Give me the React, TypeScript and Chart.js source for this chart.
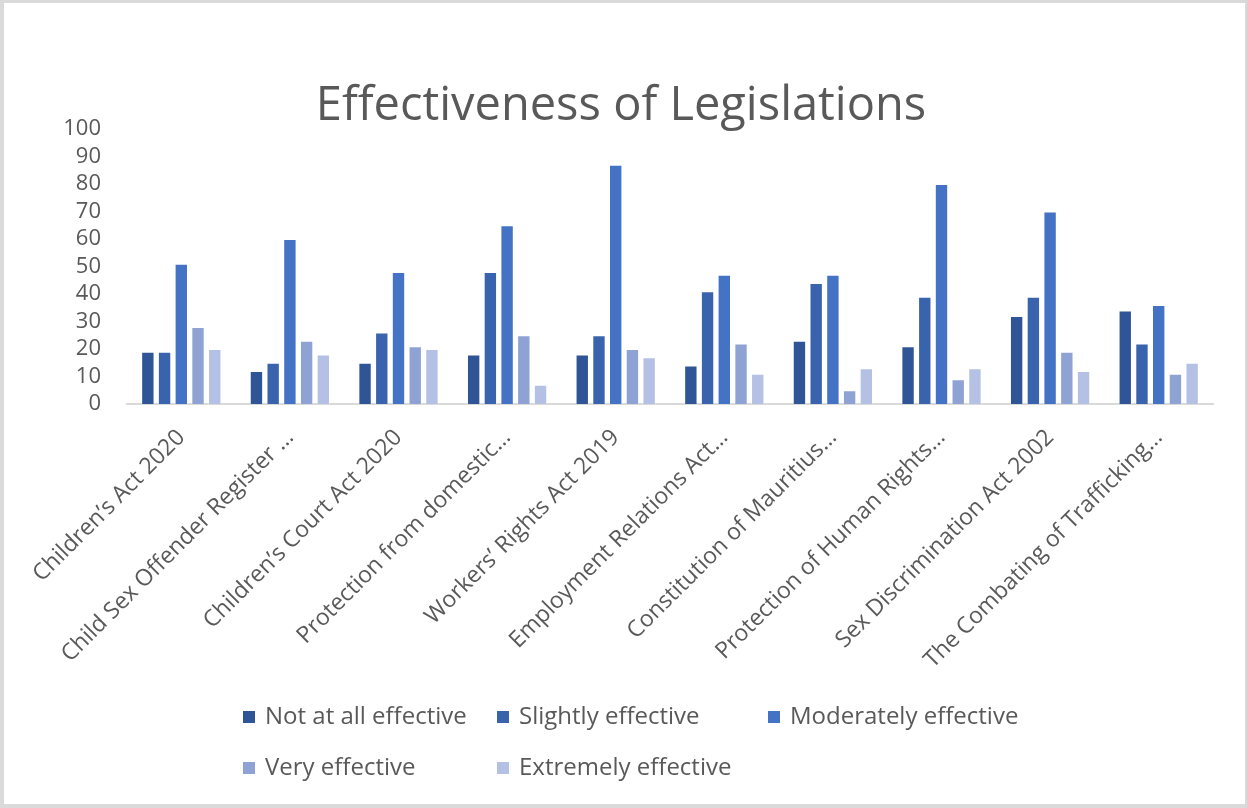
import React, { useEffect, useRef } from "react";
import { Chart, registerables } from "chart.js";

Chart.register(...registerables);

const titleText = "Effectiveness of Legislations";

const categories = [
  "Children’s Act 2020",
  "Child Sex Offender Register …",
  "Children’s Court Act 2020",
  "Protection from domestic…",
  "Workers’ Rights Act 2019",
  "Employment Relations Act…",
  "Constitution of Mauritius…",
  "Protection of Human Rights…",
  "Sex Discrimination Act 2002",
  "The Combating of Trafficking…",
];

const seriesNames = [
  "Not at all effective",
  "Slightly effective",
  "Moderately effective",
  "Very effective",
  "Extremely effective",
];

const notAtAll = [19, 12, 15, 18, 18, 14, 23, 21, 32, 34];
const slightly = [19, 15, 26, 48, 25, 41, 44, 39, 39, 22];
const moderately = [51, 60, 48, 65, 87, 47, 47, 80, 70, 36];
const veryEff = [28, 23, 21, 25, 20, 22, 5, 9, 19, 11];
const extremely = [20, 18, 20, 7, 17, 11, 13, 13, 12, 15];

const seriesValues = [notAtAll, slightly, moderately, veryEff, extremely];
const seriesColors = ["#2F5597", "#3A63AD", "#4472C4", "#8FA2D4", "#B4C1E4"];

const yMin = 0;
const yMax = 100;
const yStep = 10;

const FONT = "'Open Sans', sans-serif";
const TEXT = "#595959";

const titlePlugin = {
  id: "absTitle",
  afterDraw(chart: any) {
    const ctx = chart.ctx;
    ctx.save();
    ctx.font = `47px ${FONT}`;
    ctx.fillStyle = TEXT;
    ctx.textAlign = "center";
    ctx.textBaseline = "alphabetic";
    ctx.fillText(titleText, 621, 120);
    ctx.restore();
  },
};

const legendPlugin = {
  id: "gridLegend",
  afterDraw(chart: any) {
    const ctx = chart.ctx;
    const cols = [243, 497, 768];
    const rows = [717, 768];
    chart.data.datasets.forEach((ds: any, i: number) => {
      const x = cols[i % 3];
      const y = rows[Math.floor(i / 3)];
      ctx.save();
      ctx.fillStyle = ds.backgroundColor;
      ctx.fillRect(x, y - 6, 12, 12);
      ctx.fillStyle = TEXT;
      ctx.font = `24px ${FONT}`;
      ctx.textAlign = "left";
      ctx.textBaseline = "middle";
      ctx.fillText(ds.label, x + 22, y);
      ctx.restore();
    });
  },
};

export default function App() {
  const canvasRef = useRef<HTMLCanvasElement>(null);

  useEffect(() => {
    if (!canvasRef.current) return;
    const chart = new Chart(canvasRef.current, {
      type: "bar",
      data: {
        labels: categories,
        datasets: seriesNames.map((name, i) => ({
          label: name,
          data: seriesValues[i],
          backgroundColor: seriesColors[i],
          borderColor: "rgba(255,255,255,0.45)",
          borderWidth: 1,
          categoryPercentage: 0.77,
          barPercentage: 0.8,
        })),
      },
      options: {
        responsive: false,
        animation: false,
        layout: { padding: { top: 129, left: 0, right: 34, bottom: 114 } },
        plugins: {
          legend: { display: false },
          title: { display: false },
          tooltip: { enabled: false },
        },
        scales: {
          x: {
            grid: { display: false, drawTicks: false },
            border: { display: true, color: "#D9D9D9", width: 2 },
            ticks: {
              autoSkip: false,
              maxRotation: 45,
              minRotation: 45,
              padding: 20,
              color: TEXT,
              font: { family: FONT, size: 23 },
            },
            afterFit: (s: any) => {
              s.height = 290;
            },
          },
          y: {
            min: yMin,
            max: yMax,
            grid: { display: false, drawTicks: false },
            border: { display: false },
            ticks: {
              stepSize: yStep,
              autoSkip: false,
              padding: 26,
              color: TEXT,
              font: { family: FONT, size: 22 },
            },
            afterFit: (s: any) => {
              s.width = 127;
            },
          },
        },
      },
      plugins: [titlePlugin, legendPlugin],
    });
    return () => chart.destroy();
  }, []);

  return (
    <div style={{ position: "absolute", left: 0, top: 0, width: 1247, height: 808, background: "#fff" }}>
      <canvas ref={canvasRef} width={1247} height={808} style={{ display: "block" }} />
      <div
        style={{
          position: "absolute",
          left: 0,
          top: 0,
          width: 1247,
          height: 808,
          boxSizing: "border-box",
          borderStyle: "solid",
          borderColor: "#DADADA",
          borderWidth: "3px 2px 4px 4px",
          pointerEvents: "none",
        }}
      />
    </div>
  );
}
